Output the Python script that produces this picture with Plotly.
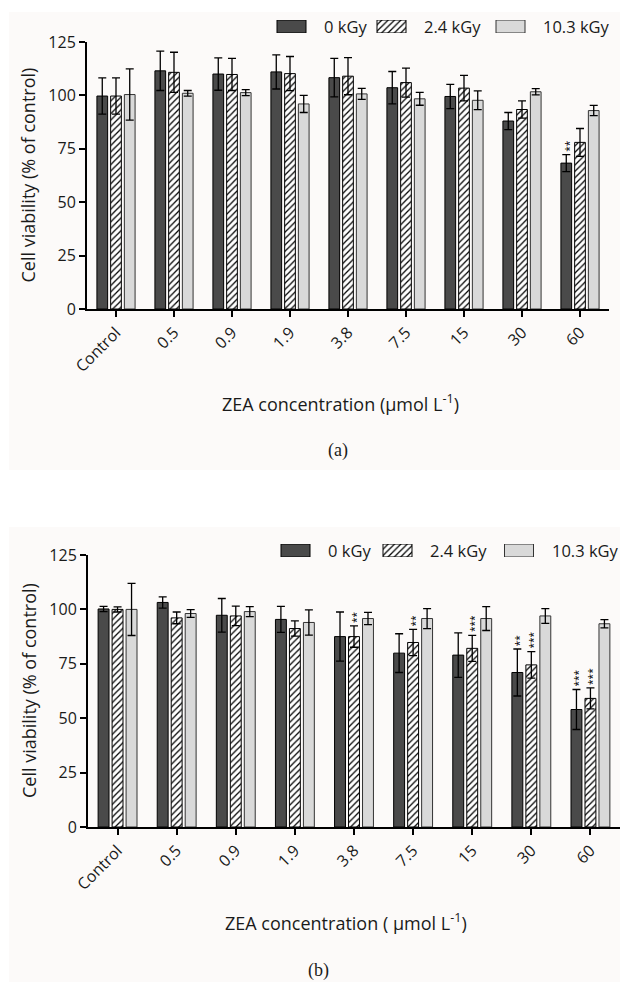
import plotly.graph_objects as go

W, H = 620, 982

categories = ['Control', '0.5', '0.9', '1.9', '3.8', '7.5', '15', '30', '60']
series_names = ['0 kGy', '2.4 kGy', '10.3 kGy']

# Panel (a)
a_0kGy = [99.7, 111.5, 110.0, 111.0, 108.3, 103.6, 99.5, 88.0, 68.3]
a_0kGy_err = [8.5, 9.2, 7.6, 8.0, 9.0, 7.6, 5.7, 4.0, 4.0]
a_24kGy = [99.7, 110.8, 109.8, 110.2, 109.0, 106.0, 103.4, 93.4, 78.0]
a_24kGy_err = [8.5, 9.4, 7.5, 8.0, 8.7, 6.8, 6.0, 4.0, 6.5]
a_103kGy = [100.4, 101.0, 101.3, 96.0, 100.7, 98.4, 97.7, 101.7, 92.9]
a_103kGy_err = [12.0, 1.3, 1.4, 4.0, 2.6, 3.0, 4.4, 1.5, 2.4]
a_star_cat = ['60']
a_star_series = [0]
a_star_text = ['**']

# Panel (b)
b_0kGy = [100.2, 103.2, 97.3, 95.4, 87.5, 79.9, 79.0, 71.0, 54.0]
b_0kGy_err = [1.2, 2.6, 7.7, 6.0, 11.3, 8.9, 10.2, 10.8, 9.2]
b_24kGy = [100.0, 96.1, 97.0, 91.2, 87.5, 84.8, 82.1, 74.5, 59.1]
b_24kGy_err = [1.2, 2.7, 4.5, 3.5, 4.9, 6.0, 6.0, 6.1, 4.8]
b_103kGy = [100.0, 98.1, 99.0, 94.0, 95.8, 95.8, 95.8, 97.0, 93.4]
b_103kGy_err = [12.0, 1.8, 2.3, 5.8, 2.8, 4.6, 5.5, 3.4, 1.9]
b_star_cat = ['3.8', '7.5', '15', '30', '30', '60', '60']
b_star_series = [1, 1, 1, 0, 1, 0, 1]
b_star_text = ['**', '**', '***', '**', '***', '***', '***']

y_ticks = [0, 25, 50, 75, 100, 125]

FONT = 'Open Sans'
DARK = '#4a4a4a'
LIGHT = '#d9d9d9'
TXT = '#1a1a1a'
HATCH = dict(shape='/', fgcolor='black', bgcolor='white', size=4.5, solidity=0.28)


def py(px):
    return 1 - px / H


def px_x(px):
    return px / W


def marker_for(i):
    if i == 0:
        return dict(color=DARK, line=dict(color='black', width=1))
    if i == 1:
        return dict(color='white', line=dict(color='black', width=1), pattern=HATCH)
    return dict(color=LIGHT, line=dict(color='#333333', width=1))


fig = go.Figure()

panels = [
    dict(vals=[a_0kGy, a_24kGy, a_103kGy], errs=[a_0kGy_err, a_24kGy_err, a_103kGy_err],
         xa='x', ya='y'),
    dict(vals=[b_0kGy, b_24kGy, b_103kGy], errs=[b_0kGy_err, b_24kGy_err, b_103kGy_err],
         xa='x2', ya='y2'),
]
for p in panels:
    for i in range(3):
        fig.add_trace(go.Bar(
            x=categories, y=p['vals'][i], name=series_names[i],
            xaxis=p['xa'], yaxis=p['ya'], marker=marker_for(i),
            error_y=dict(type='data', array=p['errs'][i], visible=True,
                         color='black', thickness=1.3, width=4),
            showlegend=False,
        ))

# legend swatches drawn on hidden overlay axes (pixel-unit x ranges)
legend_specs = [
    dict(xa='x3', ya='y3', centers=[291.5, 391.5, 510.5], texts=[322, 422, 541], yc=26.5),
    dict(xa='x4', ya='y4', centers=[295.5, 397.5, 519.0], texts=[326, 428, 550], yc=550.5),
]
for spec in legend_specs:
    for i in range(3):
        fig.add_trace(go.Bar(
            x=[spec['centers'][i]], y=[1], width=[29],
            xaxis=spec['xa'], yaxis=spec['ya'], showlegend=False, hoverinfo='skip',
            marker=marker_for(i),
        ))

annotations = []
shapes = []

# background boxes
shapes.append(dict(type='rect', xref='paper', yref='paper', x0=px_x(9), x1=1,
                   y0=py(470), y1=py(12), fillcolor='#fcfaf9', line=dict(width=0), layer='below'))
shapes.append(dict(type='rect', xref='paper', yref='paper', x0=px_x(9), x1=1,
                   y0=py(982), y1=py(527), fillcolor='#fcfaf9', line=dict(width=0), layer='below'))

for spec in legend_specs:
    for t, xl in zip(series_names, spec['texts']):
        annotations.append(dict(text=t, x=px_x(xl), y=py(spec['yc']), xref='paper', yref='paper',
                                xanchor='left', yanchor='middle', showarrow=False,
                                font=dict(family=FONT, size=16.5, color=TXT)))

axis_common = dict(showline=True, linecolor='black', linewidth=2, ticks='outside',
                   ticklen=6, tickwidth=2, tickcolor='black', showgrid=False, zeroline=False,
                   automargin=False,
                   tickfont=dict(family=FONT, size=16, color=TXT))

layout_panels = [
    dict(x0=87, x1=609, ytop=42, ybot=309, xa='xaxis', ya='yaxis', xr='x', yr='y',
         title='ZEA concentration (μmol L<sup>-1</sup>)', tx=340, ty=403, ytx=28,
         lab='(a)', lx=338, ly=450,
         stars=(a_star_cat, a_star_series, a_star_text), vals=panels[0]),
    dict(x0=88, x1=620, ytop=555, ybot=827, xa='xaxis2', ya='yaxis2', xr='x2', yr='y2',
         title='ZEA concentration ( μmol L<sup>-1</sup>)', tx=346, ty=922, ytx=29,
         lab='(b)', lx=318, ly=970,
         stars=(b_star_cat, b_star_series, b_star_text), vals=panels[1]),
]

layout = dict(template='none', width=W, height=H, margin=dict(l=0, r=0, t=0, b=0, pad=0),
              paper_bgcolor='white', plot_bgcolor='rgba(0,0,0,0)',
              barmode='group', bargap=0.29, bargroupgap=0.22, showlegend=False)

for lp in layout_panels:
    layout[lp['xa']] = dict(domain=[px_x(lp['x0']), px_x(lp['x1'])], anchor=lp['yr'],
                            type='category', range=[-0.5, 8.5], tickangle=-45, **axis_common)
    layout[lp['ya']] = dict(domain=[py(lp['ybot']), py(lp['ytop'])], anchor=lp['xr'],
                            range=[0, 125], tickvals=y_ticks, **axis_common)
    # x-axis line extension to the left of the y axis
    shapes.append(dict(type='line', xref='paper', yref='paper', x0=px_x(lp['x0'] - 8),
                       x1=px_x(lp['x0']), y0=py(lp['ybot']), y1=py(lp['ybot']),
                       line=dict(color='black', width=2)))
    annotations.append(dict(text=lp['title'], x=px_x(lp['tx']), y=py(lp['ty']), xref='paper',
                            yref='paper', showarrow=False, xanchor='center', yanchor='middle',
                            font=dict(family=FONT, size=18, color=TXT)))
    annotations.append(dict(text='Cell viability (% of control)', x=px_x(lp['ytx']),
                            y=py((lp['ytop'] + lp['ybot']) / 2), xref='paper', yref='paper',
                            showarrow=False, textangle=-90, xanchor='center', yanchor='middle',
                            font=dict(family=FONT, size=18, color=TXT)))
    annotations.append(dict(text=lp['lab'], x=px_x(lp['lx']), y=py(lp['ly']), xref='paper',
                            yref='paper', showarrow=False, xanchor='center', yanchor='middle',
                            font=dict(family='Liberation Serif', size=18, color=TXT)))
    slot = (lp['x1'] - lp['x0']) / 9 * (1 - 0.29) / 3
    cats, sers, txts = lp['stars']
    for c, s, t in zip(cats, sers, txts):
        idx = categories.index(c)
        top = lp['vals']['vals'][s][idx] + lp['vals']['errs'][s][idx]
        annotations.append(dict(text=t, x=idx, y=top, xref=lp['xr'], yref=lp['yr'],
                                xshift=(s - 1) * slot + 2, yshift=1, showarrow=False,
                                textangle=-90, xanchor='center', yanchor='bottom',
                                font=dict(family=FONT, size=10, color='black')))

for n, (xa, ya, lg) in enumerate([('xaxis3', 'yaxis3', legend_specs[0]),
                                  ('xaxis4', 'yaxis4', legend_specs[1])]):
    yc = lg['yc']
    layout[xa] = dict(domain=[0, 1], range=[0, W], visible=False, anchor='y3' if n == 0 else 'y4',
                      fixedrange=True, automargin=False)
    layout[ya] = dict(domain=[py(yc + 6.5), py(yc - 6.5)], range=[0, 1], visible=False,
                      anchor='x3' if n == 0 else 'x4', fixedrange=True, automargin=False)

layout['annotations'] = annotations
layout['shapes'] = shapes
fig.update_layout(**layout)

fig.write_html('out.html', config={'displayModeBar': False},
               post_script="document.body.style.margin='0';")
